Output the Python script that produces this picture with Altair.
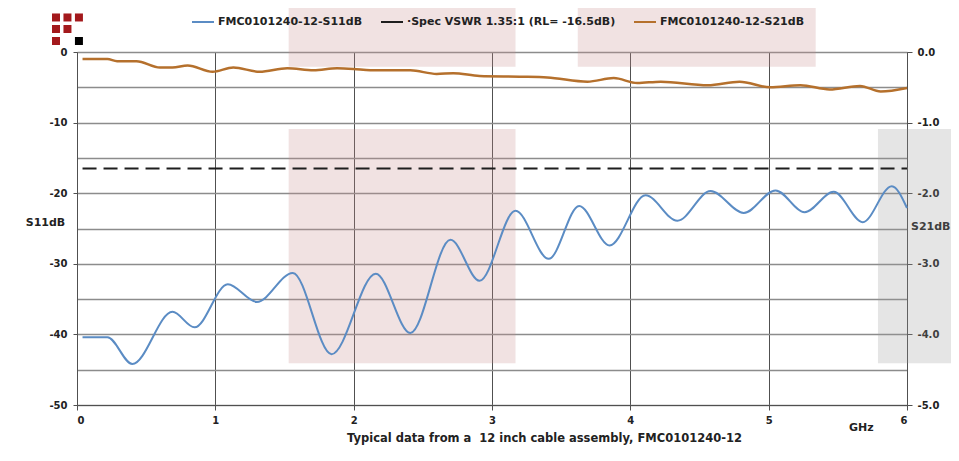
import altair as alt
import pandas as pd

FONT = "DejaVu Sans"

# ---- data ----
s11_f = [0.04, 0.22, 0.40, 0.69, 0.85, 1.09, 1.30, 1.56, 1.84, 2.16, 2.41, 2.70, 2.91,
         3.17, 3.41, 3.63, 3.85, 4.11, 4.34, 4.58, 4.82, 5.05, 5.26, 5.47, 5.68, 5.89, 6.0]
s11_db = [-40.4, -40.4, -44.2, -36.8, -39.0, -32.9, -35.4, -31.3, -42.8, -31.4, -39.8, -26.6, -32.4,
          -22.5, -29.3, -21.8, -27.4, -20.3, -23.9, -19.7, -22.8, -19.6, -22.7, -19.8, -24.1, -19.0, -22.1]

s21_f = [0.04, 0.22, 0.29, 0.43, 0.60, 0.69, 0.80, 0.98, 1.13, 1.32, 1.52, 1.71, 1.88, 2.00, 2.12,
         2.41, 2.60, 2.72, 2.91, 3.20, 3.40, 3.69, 3.88, 4.05, 4.22, 4.56, 4.79, 5.01, 5.23, 5.44,
         5.66, 5.81, 6.0]
s21_db = [-0.10, -0.10, -0.13, -0.13, -0.22, -0.22, -0.19, -0.28, -0.22, -0.28, -0.23, -0.26, -0.23,
          -0.24, -0.26, -0.26, -0.31, -0.30, -0.34, -0.35, -0.36, -0.42, -0.37, -0.44, -0.42, -0.47,
          -0.42, -0.50, -0.47, -0.53, -0.48, -0.56, -0.51]

spec_f = [0.04, 6.0]
spec_db = [-16.5, -16.5]

series_names = ["FMC0101240-12-S11dB", "·Spec VSWR 1.35:1 (RL= -16.5dB)", "FMC0101240-12-S21dB"]
series_colors = ["#5b8cc4", "#1e1e1e", "#b5702c"]

x_ticks = [0, 1, 2, 3, 4, 5, 6]
left_ticks = [-50, -45, -40, -35, -30, -25, -20, -15, -10, -5, 0]
right_ticks = [0.0, -1.0, -2.0, -3.0, -4.0, -5.0]

x_title = "Typical data from a \u00a012 inch cable assembly, FMC0101240-12"

# watermark boxes (GHz / S11 dB coordinates)
box_x1 = [1.53, 1.53, 3.62, 5.79]
box_x2 = [3.17, 3.17, 5.34, 6.40]
box_y1 = [-10.9, 6.3, 6.3, -10.9]
box_y2 = [-44.1, -2.1, -2.1, -44.1]
box_fill = ["#c98a8a", "#c98a8a", "#c98a8a", "#999999"]

# logo squares
logo_x = [-0.152, -0.069, 0.014, -0.152, -0.069, -0.152, 0.014]
logo_y = [4.89, 4.89, 4.89, 3.26, 3.26, 1.56, 1.56]
logo_c = ["#a3191c", "#a3191c", "#a3191c", "#a3191c", "#a3191c", "#a3191c", "#000000"]

x_unit = ["GHz"]
x_unit_f = [5.67]
x_unit_db = [-53.3]

# ---- tables ----
df_s11 = pd.DataFrame({"f": s11_f, "db": s11_db, "series": series_names[0]})
df_spec = pd.DataFrame({"f": spec_f, "db": spec_db, "series": series_names[1]})
df_s21 = pd.DataFrame({"f": s21_f, "db": s21_db, "series": series_names[2]})
df_box = pd.DataFrame({"x1": box_x1, "x2": box_x2, "y1": box_y1, "y2": box_y2, "c": box_fill})
df_logo = pd.DataFrame({"x": logo_x, "y": logo_y, "c": logo_c})
df_unit = pd.DataFrame({"x": x_unit_f, "y": x_unit_db, "t": x_unit})

xs = alt.Scale(domain=[0, 6], nice=False, zero=False)
ys_l = alt.Scale(domain=[-50, 0], nice=False, zero=False)
ys_r = alt.Scale(domain=[-5, 0], nice=False, zero=False)

color_enc = alt.Color(
    "series:N",
    scale=alt.Scale(domain=series_names, range=series_colors),
    legend=alt.Legend(
        title=None, orient="none", legendX=114, legendY=-42, direction="horizontal",
        symbolType="stroke", symbolSize=484, symbolStrokeWidth=2,
        labelFont=FONT, labelFontSize=11, labelFontWeight="bold", labelColor="#222",
        labelLimit=400, columnPadding=14, labelOffset=3,
    ),
)

x_axis = alt.Axis(
    values=x_ticks, grid=True, gridColor="#505050", gridWidth=1,
    domainColor="#505050", tickColor="#505050", tickSize=5,
    labelFont=FONT, labelFontSize=10, labelFontWeight="bold", labelColor="#222", labelPadding=5,
    title=x_title,
    titleFont=FONT, titleFontSize=11.5, titleFontWeight="bold", titleColor="#222",
    titleX=467, titleY=33, titleAlign="center", titleBaseline="middle", titleAnchor="start",
)

y_axis_l = alt.Axis(
    values=left_ticks, grid=True, gridColor="#8c8c8c", gridWidth=1.5,
    labelExpr="datum.value % 10 == 0 ? (datum.value < 0 ? '-' : '') + abs(datum.value) : ''",
    tickOpacity={"condition": {"test": "datum.value % 10 == 0", "value": 1}, "value": 0},
    domainColor="#505050", tickColor="#505050", tickSize=4,
    labelFont=FONT, labelFontSize=10, labelFontWeight="bold", labelColor="#222", labelPadding=6,
    title="S11dB", titleAngle=0, titleX=-32, titleY=170, titleAlign="center",
    titleBaseline="middle", titleAnchor="start",
    titleFont=FONT, titleFontSize=11, titleFontWeight="bold", titleColor="#222",
)

y_axis_r = alt.Axis(
    orient="right", values=right_ticks, grid=False,
    labelExpr="(datum.value < 0 ? '-' : '') + format(abs(datum.value), '.1f')",
    domainColor="#505050", tickColor="#505050", tickSize=5,
    labelFont=FONT, labelFontSize=10, labelFontWeight="bold", labelColor="#222", labelPadding=5,
    title="S21dB", titleAngle=0, titleX=43, titleY=174, titleAlign="right",
    titleBaseline="middle", titleAnchor="start",
    titleFont=FONT, titleFontSize=11, titleFontWeight="bold", titleColor="#222",
)

boxes = alt.Chart(df_box).mark_rect(opacity=0.25, clip=False).encode(
    x=alt.X("x1:Q", scale=xs, axis=x_axis), x2="x2:Q",
    y=alt.Y("y1:Q", scale=ys_l, axis=y_axis_l), y2="y2:Q",
    fill=alt.Fill("c:N", scale=None),
)

logo = alt.Chart(df_logo).mark_square(size=64, opacity=1, clip=False).encode(
    x=alt.X("x:Q", scale=xs, axis=x_axis),
    y=alt.Y("y:Q", scale=ys_l, axis=y_axis_l),
    fill=alt.Fill("c:N", scale=None),
)

s11 = alt.Chart(df_s11).mark_line(strokeWidth=2, interpolate="monotone").encode(
    x=alt.X("f:Q", scale=xs, axis=x_axis),
    y=alt.Y("db:Q", scale=ys_l, axis=y_axis_l),
    color=color_enc,
)

spec = alt.Chart(df_spec).mark_line(strokeWidth=2, strokeDash=[14, 7]).encode(
    x=alt.X("f:Q", scale=xs, axis=x_axis),
    y=alt.Y("db:Q", scale=ys_l, axis=y_axis_l),
    color=color_enc,
)

unit = alt.Chart(df_unit).mark_text(
    font=FONT, fontSize=11, fontWeight="bold", color="#222", clip=False
).encode(
    x=alt.X("x:Q", scale=xs, axis=x_axis),
    y=alt.Y("y:Q", scale=ys_l, axis=y_axis_l),
    text="t:N",
)

left_group = alt.layer(boxes, logo, s11, spec, unit)

s21 = alt.Chart(df_s21).mark_line(strokeWidth=2.5, interpolate="monotone").encode(
    x=alt.X("f:Q", scale=xs, axis=x_axis),
    y=alt.Y("db:Q", scale=ys_r, axis=y_axis_r),
    color=color_enc,
)

chart = (
    alt.layer(left_group, s21)
    .resolve_scale(y="independent")
    .properties(
        width=830, height=353,
        autosize=alt.AutoSizeParams(type="none"),
        padding={"left": 69, "top": 44, "right": 44, "bottom": 40},
        background="white",
    )
    .configure_view(stroke=None)
)

chart.save("out.html", embed_options={"renderer": "svg", "actions": False})
